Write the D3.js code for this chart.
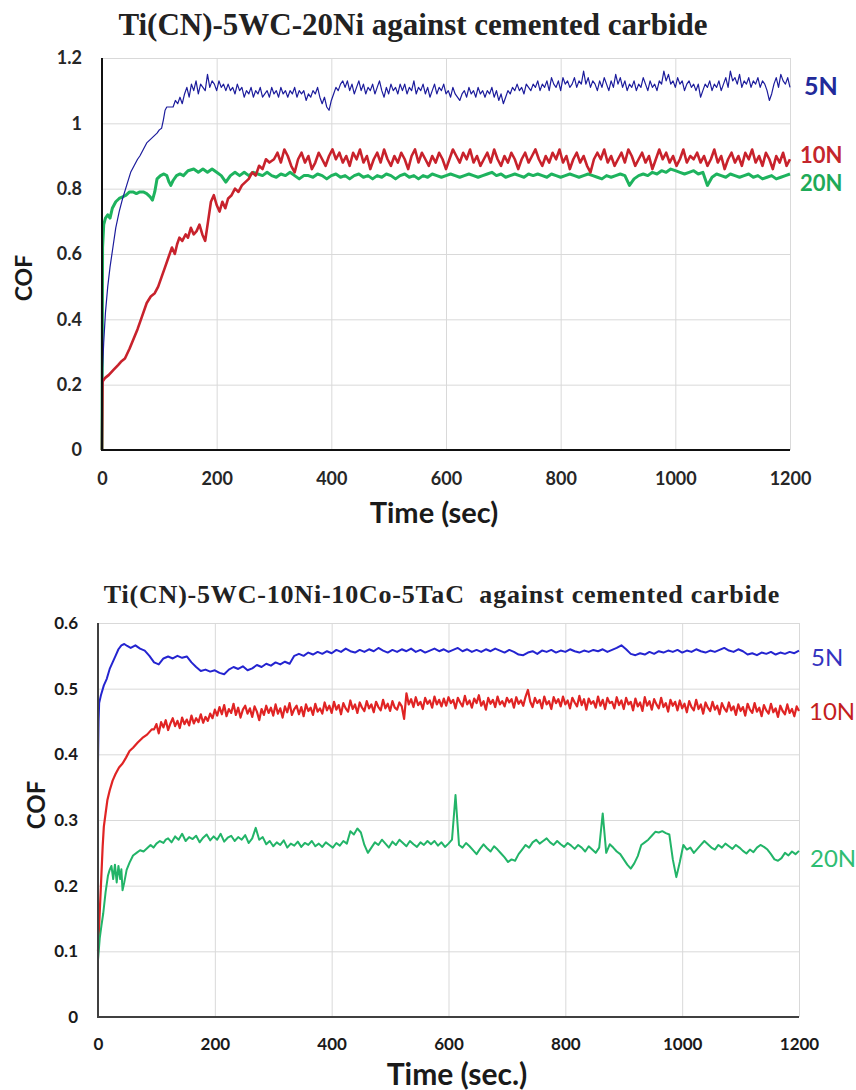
<!DOCTYPE html>
<html>
<head>
<meta charset="utf-8">
<script src="https://cdn.jsdelivr.net/npm/d3@7"></script>
<style>
  html, body { margin: 0; padding: 0; background: #ffffff; }
  svg { display: block; }
</style>
</head>
<body>
<svg id="chart" width="856" height="1090"></svg>
<script>
// ---------------------------------------------------------------
// Friction data (COF vs sliding time, seconds)
// Each curve: an initial run-in part as [time, cof] pairs, then a
// steady part sampled at a fixed time step.
// ---------------------------------------------------------------
const timeTicks = [0, 200, 400, 600, 800, 1000, 1200];
const topCofTicks = [0, 0.2, 0.4, 0.6, 0.8, 1, 1.2];
const bottomCofTicks = [0, 0.1, 0.2, 0.3, 0.4, 0.5, 0.6];
const loadLabels = ["5N", "10N", "20N"];

// ---- Ti(CN)-5WC-20Ni ----
const top5NRamp = [[0,0],[1,0.25],[3,0.33],[6,0.42],[10,0.50],[14,0.56],[19,0.62],[24,0.68],[30,0.73],[36,0.77],[43,0.81],[50,0.85],[56,0.87],[62,0.89],[66,0.90],[72,0.92],[78,0.94],[84,0.95],[90,0.96],[96,0.97],[100,0.98],[104,0.985],[107,1.01],[110,1.04],[113,1.05],[118,1.05]];
const top5NStart = 124, top5NStep = 4;
const top5NTail = [
  1.05,1.07,1.06,1.08,1.06,1.09,1.11,1.08,1.12,1.10,1.13,1.09,1.12,1.11,1.10,1.15,1.11,1.13,1.12,1.10,1.13,1.11,1.12,1.10,1.12,
  1.10,1.11,1.09,1.12,1.10,1.11,1.08,1.10,1.09,1.11,1.08,1.10,1.09,1.11,1.08,1.09,1.10,1.08,1.11,1.09,1.10,1.08,1.11,1.09,1.10,
  1.08,1.10,1.09,1.11,1.08,1.10,1.09,1.10,1.07,1.09,1.08,1.10,1.09,1.11,1.08,1.06,1.08,1.05,1.04,1.07,1.09,1.11,1.10,1.12,1.13,
  1.11,1.13,1.10,1.12,1.09,1.11,1.13,1.10,1.12,1.09,1.11,1.10,1.12,1.09,1.11,1.13,1.10,1.08,1.11,1.09,1.12,1.10,1.11,1.09,1.12,
  1.10,1.12,1.09,1.11,1.10,1.13,1.09,1.11,1.10,1.12,1.09,1.11,1.08,1.10,1.12,1.09,1.11,1.10,1.12,1.09,1.10,1.08,1.11,1.09,1.08,
  1.07,1.09,1.10,1.08,1.11,1.09,1.10,1.08,1.11,1.09,1.10,1.08,1.10,1.09,1.11,1.08,1.10,1.07,1.09,1.06,1.08,1.10,1.09,1.11,1.10,
  1.12,1.10,1.11,1.09,1.12,1.11,1.10,1.12,1.11,1.13,1.10,1.12,1.11,1.13,1.10,1.14,1.12,1.11,1.13,1.10,1.14,1.12,1.13,1.11,1.12,
  1.14,1.11,1.13,1.12,1.16,1.12,1.14,1.11,1.13,1.12,1.10,1.13,1.11,1.14,1.12,1.10,1.13,1.11,1.15,1.12,1.14,1.11,1.13,1.10,1.12,
  1.11,1.13,1.10,1.12,1.11,1.14,1.12,1.10,1.13,1.11,1.12,1.10,1.13,1.12,1.16,1.13,1.15,1.12,1.13,1.11,1.14,1.12,1.13,1.10,1.12,
  1.13,1.11,1.12,1.10,1.12,1.08,1.10,1.12,1.11,1.13,1.10,1.12,1.11,1.13,1.10,1.12,1.14,1.11,1.16,1.13,1.14,1.12,1.15,1.11,1.13,
  1.12,1.14,1.11,1.13,1.12,1.14,1.11,1.13,1.12,1.10,1.07,1.09,1.12,1.14,1.11,1.15,1.13,1.12,1.14,1.11
];

const top10NRamp = [[0,0],[1,0.21],[5,0.22],[12,0.23],[20,0.245],[28,0.26],[33,0.27],[40,0.28],[48,0.31],[55,0.34],[62,0.37],[70,0.41],[78,0.45],[85,0.47],[92,0.48],[98,0.50],[104,0.53],[110,0.56],[116,0.59],[122,0.62],[127,0.60],[131,0.63],[135,0.65],[140,0.64],[146,0.66],[150,0.65],[155,0.68],[160,0.66],[165,0.67],[170,0.69],[175,0.66],[180,0.64],[185,0.70],[190,0.76],[195,0.78],[200,0.75],[205,0.73],[210,0.76],[215,0.74],[220,0.77],[226,0.78],[232,0.80],[238,0.79],[244,0.81],[250,0.82],[256,0.83],[262,0.85],[268,0.84],[274,0.87],[280,0.86],[286,0.89],[292,0.88]];
const top10NStart = 300, top10NStep = 6;
const top10NTail = [
  0.89,0.91,0.88,0.92,0.90,0.87,0.85,0.89,0.91,0.88,0.90,0.86,0.88,0.91,0.89,0.87,0.90,0.92,0.89,0.91,0.88,0.90,0.87,0.91,0.89,
  0.92,0.88,0.90,0.86,0.89,0.91,0.88,0.92,0.89,0.87,0.90,0.88,0.91,0.89,0.86,0.90,0.92,0.88,0.91,0.89,0.87,0.90,0.88,0.91,0.89,
  0.86,0.89,0.92,0.90,0.88,0.91,0.89,0.92,0.88,0.90,0.87,0.89,0.91,0.88,0.92,0.89,0.87,0.90,0.88,0.91,0.89,0.86,0.89,0.91,0.88,
  0.90,0.92,0.89,0.87,0.90,0.88,0.91,0.89,0.92,0.88,0.90,0.86,0.89,0.91,0.88,0.90,0.87,0.85,0.89,0.91,0.89,0.92,0.88,0.90,0.87,
  0.89,0.91,0.88,0.92,0.90,0.87,0.89,0.91,0.88,0.90,0.86,0.89,0.92,0.89,0.91,0.88,0.90,0.87,0.89,0.92,0.88,0.90,0.89,0.91,0.88,
  0.90,0.87,0.89,0.92,0.88,0.90,0.86,0.89,0.91,0.88,0.90,0.87,0.91,0.89,0.92,0.88,0.90,0.87,0.91,0.89,0.86,0.90,0.88,0.91,0.87,
  0.89
];

const top20NRamp = [[0,0],[1,0.62],[3,0.69],[6,0.71],[10,0.72],[14,0.71],[18,0.74],[24,0.76],[30,0.77],[36,0.775],[42,0.78],[48,0.79],[54,0.79],[60,0.785],[66,0.79],[72,0.79],[78,0.785],[84,0.775],[88,0.765],[92,0.79],[96,0.83],[102,0.84],[108,0.845],[113,0.84],[117,0.82],[120,0.81],[124,0.825],[130,0.84],[136,0.845],[142,0.84],[150,0.855]];
const top20NStart = 160, top20NStep = 8;
const top20NTail = [
  0.86,0.85,0.86,0.85,0.86,0.85,0.84,0.82,0.84,0.85,0.84,0.85,0.84,0.85,0.845,0.84,0.85,0.84,0.835,0.845,0.84,0.85,0.84,0.83,0.84,
  0.84,0.835,0.845,0.84,0.83,0.84,0.845,0.835,0.84,0.83,0.84,0.845,0.835,0.84,0.83,0.84,0.835,0.845,0.84,0.83,0.84,0.845,0.835,0.84,0.83,
  0.84,0.835,0.845,0.84,0.835,0.84,0.845,0.84,0.835,0.84,0.845,0.84,0.835,0.84,0.845,0.85,0.84,0.845,0.835,0.84,0.845,0.84,0.835,0.845,0.84,
  0.845,0.84,0.835,0.845,0.84,0.835,0.84,0.845,0.84,0.835,0.84,0.845,0.84,0.835,0.83,0.84,0.835,0.84,0.845,0.84,0.81,0.83,0.84,0.845,0.84,
  0.85,0.845,0.855,0.85,0.86,0.855,0.85,0.845,0.85,0.855,0.845,0.85,0.81,0.835,0.845,0.84,0.835,0.845,0.84,0.835,0.84,0.845,0.835,0.84,0.83,
  0.835,0.84,0.83,0.835,0.84,0.845
];

// ---- Ti(CN)-5WC-10Ni-10Co-5TaC ----
const bot5NRamp = [[0,0.385],[1,0.45],[2,0.478],[5,0.49],[10,0.505],[15,0.515],[20,0.53],[25,0.54],[30,0.55],[35,0.56],[40,0.566],[45,0.568],[50,0.565]];
const bot5NStart = 56, bot5NStep = 8;
const bot5NTail = [
  0.562,0.566,0.561,0.558,0.550,0.540,0.537,0.546,0.549,0.546,0.550,0.547,0.549,0.540,0.533,0.527,0.529,0.526,0.528,0.524,0.522,0.529,0.533,0.530,0.534,
  0.528,0.531,0.536,0.533,0.538,0.535,0.540,0.537,0.541,0.538,0.550,0.553,0.550,0.555,0.552,0.556,0.553,0.557,0.554,0.559,0.556,0.561,0.557,0.555,0.559,
  0.556,0.560,0.557,0.562,0.558,0.555,0.559,0.556,0.560,0.557,0.561,0.556,0.559,0.555,0.558,0.561,0.557,0.560,0.556,0.559,0.562,0.557,0.560,0.556,0.559,
  0.556,0.560,0.557,0.561,0.558,0.555,0.559,0.556,0.552,0.551,0.555,0.557,0.553,0.558,0.556,0.559,0.555,0.558,0.556,0.560,0.557,0.555,0.558,0.556,0.559,
  0.557,0.560,0.556,0.559,0.562,0.566,0.560,0.553,0.551,0.554,0.552,0.556,0.553,0.557,0.555,0.558,0.556,0.559,0.555,0.558,0.556,0.560,0.557,0.555,0.558,
  0.556,0.559,0.562,0.558,0.556,0.560,0.557,0.552,0.554,0.551,0.555,0.553,0.556,0.552,0.555,0.553,0.556,0.554,0.558
];

const bot10NRamp = [[0,0.10],[2,0.14],[4,0.18],[6,0.22],[8,0.26],[10,0.29],[13,0.31],[16,0.33],[20,0.345],[25,0.36],[30,0.37],[36,0.38],[42,0.386],[48,0.395],[54,0.405],[60,0.41],[68,0.418],[76,0.425],[84,0.43],[92,0.438]];
const bot10NStart = 96, bot10NStep = 4;
const bot10NTail = [
  0.438,0.446,0.432,0.449,0.441,0.452,0.437,0.447,0.455,0.443,0.451,0.440,0.456,0.446,0.453,0.444,0.459,0.447,0.455,0.449,0.461,0.448,0.457,0.451,0.462,
  0.455,0.468,0.459,0.472,0.461,0.475,0.458,0.469,0.463,0.477,0.460,0.471,0.456,0.468,0.474,0.462,0.470,0.457,0.473,0.465,0.452,0.469,0.460,0.474,0.463,
  0.471,0.459,0.476,0.462,0.470,0.456,0.473,0.464,0.478,0.460,0.469,0.474,0.461,0.472,0.458,0.476,0.466,0.471,0.460,0.477,0.465,0.470,0.462,0.479,0.467,
  0.474,0.463,0.480,0.468,0.475,0.461,0.478,0.470,0.465,0.482,0.469,0.476,0.463,0.479,0.471,0.466,0.481,0.470,0.476,0.464,0.480,0.472,0.467,0.483,0.470,
  0.477,0.466,0.481,0.471,0.468,0.479,0.473,0.454,0.493,0.476,0.484,0.472,0.487,0.475,0.480,0.469,0.486,0.477,0.482,0.471,0.488,0.476,0.483,0.473,0.485,
  0.474,0.487,0.478,0.483,0.470,0.486,0.479,0.473,0.489,0.476,0.482,0.471,0.485,0.478,0.490,0.474,0.481,0.468,0.486,0.477,0.483,0.472,0.488,0.476,0.481,
  0.473,0.486,0.479,0.484,0.471,0.487,0.477,0.482,0.474,0.488,0.498,0.480,0.472,0.486,0.478,0.483,0.470,0.488,0.476,0.481,0.469,0.487,0.478,0.484,0.473,
  0.488,0.476,0.482,0.470,0.486,0.479,0.473,0.489,0.475,0.484,0.468,0.485,0.477,0.481,0.471,0.488,0.474,0.483,0.469,0.486,0.478,0.480,0.470,0.487,0.475,
  0.482,0.469,0.486,0.476,0.480,0.467,0.485,0.473,0.479,0.466,0.487,0.474,0.481,0.468,0.484,0.476,0.470,0.486,0.472,0.478,0.465,0.483,0.474,0.480,0.467,
  0.482,0.470,0.477,0.464,0.481,0.472,0.467,0.483,0.469,0.476,0.462,0.479,0.471,0.466,0.480,0.468,0.474,0.461,0.478,0.470,0.465,0.479,0.467,0.473,0.460,
  0.476,0.466,0.472,0.459,0.477,0.468,0.463,0.478,0.465,0.471,0.458,0.475,0.467,0.462,0.477,0.464,0.470,0.457,0.474,0.466,0.461,0.476,0.463,0.469,0.458,
  0.473,0.466
];

const bot20NRamp = [[0,0.087],[3,0.12],[6,0.14],[9,0.158],[13,0.19],[17,0.215],[20,0.224],[23,0.23],[26,0.21],[29,0.232],[32,0.205],[35,0.23],[38,0.21],[40,0.225],[42,0.193],[45,0.205],[49,0.224],[54,0.235],[60,0.246],[66,0.25],[72,0.254],[78,0.252],[84,0.257],[90,0.262],[95,0.258],[100,0.264],[106,0.268],[112,0.265],[116,0.27]];
const bot20NStart = 120, bot20NStep = 6;
const bot20NTail = [
  0.272,0.266,0.275,0.270,0.279,0.268,0.274,0.271,0.276,0.266,0.273,0.278,0.269,0.275,0.270,0.279,0.267,0.273,0.276,0.268,0.274,0.270,0.277,0.265,0.272,
  0.288,0.270,0.274,0.263,0.268,0.260,0.266,0.262,0.269,0.258,0.264,0.261,0.267,0.259,0.265,0.262,0.268,0.260,0.264,0.259,0.266,0.262,0.258,0.265,0.261,
  0.268,0.264,0.283,0.278,0.287,0.281,0.262,0.250,0.258,0.266,0.262,0.270,0.264,0.258,0.267,0.262,0.270,0.265,0.260,0.268,0.263,0.259,0.266,0.262,0.268,
  0.263,0.268,0.261,0.266,0.259,0.264,0.270,0.338,0.262,0.258,0.265,0.260,0.254,0.248,0.256,0.263,0.257,0.252,0.260,0.255,0.249,0.243,0.236,0.240,0.238,
  0.248,0.255,0.262,0.258,0.266,0.270,0.264,0.268,0.272,0.266,0.262,0.268,0.263,0.259,0.265,0.261,0.256,0.262,0.258,0.252,0.260,0.255,0.250,0.258,0.310,
  0.250,0.263,0.258,0.252,0.248,0.240,0.232,0.226,0.234,0.245,0.262,0.266,0.270,0.276,0.282,0.281,0.283,0.280,0.278,0.240,0.213,0.236,0.262,0.255,0.258,
  0.250,0.256,0.262,0.268,0.263,0.258,0.255,0.262,0.258,0.264,0.260,0.256,0.262,0.258,0.253,0.249,0.255,0.251,0.258,0.262,0.259,0.255,0.248,0.240,0.238,
  0.242,0.250,0.246,0.252,0.248,0.253
];

// ---------------------------------------------------------------
const svg = d3.select("#chart");
const sansFont = "Lato, 'Open Sans', 'DejaVu Sans', sans-serif";
const serifFont = "'Liberation Serif', 'DejaVu Serif', serif";

function buildSeries(ramp, tail, start, step) {
  return ramp.concat(tail.map((v, i) => [start + i * step, v]));
}

function drawPanel(cfg) {
  const g = svg.append("g");
  const x = d3.scaleLinear().domain([0, 1200]).range([cfg.left, cfg.right]);
  const y = d3.scaleLinear().domain([0, cfg.yMax]).range([cfg.bottom, cfg.top]);

  // vertical gridlines + time tick labels
  g.append("g")
    .attr("transform", `translate(0,${cfg.bottom})`)
    .call(d3.axisBottom(x).tickValues(timeTicks).tickFormat(d3.format("d"))
      .tickSize(-(cfg.bottom - cfg.top)).tickPadding(cfg.xPad))
    .call(a => a.select(".domain").remove())
    .call(a => a.selectAll(".tick line").attr("stroke", cfg.gridColor).attr("stroke-width", 1))
    .attr("font-family", sansFont).attr("font-size", cfg.tickFont).attr("font-weight", 700)
    .call(a => a.selectAll(".tick text").attr("fill", cfg.tickColor));

  // horizontal gridlines + COF tick labels
  g.append("g")
    .attr("transform", `translate(${cfg.left},0)`)
    .call(d3.axisLeft(y).tickValues(cfg.yTicks).tickFormat(d3.format("~g"))
      .tickSize(-(cfg.right - cfg.left)).tickPadding(cfg.yPad))
    .call(a => a.select(".domain").remove())
    .call(a => a.selectAll(".tick line").attr("stroke", cfg.gridColor).attr("stroke-width", 1))
    .attr("font-family", sansFont).attr("font-size", cfg.tickFont).attr("font-weight", 700)
    .call(a => a.selectAll(".tick text").attr("fill", cfg.tickColor));

  // curves
  const line = d3.line().x(d => x(d[0])).y(d => y(d[1]));
  cfg.series.forEach(s => {
    g.append("path")
      .datum(s.data)
      .attr("fill", "none")
      .attr("stroke", s.color)
      .attr("stroke-width", s.width)
      .attr("stroke-linejoin", "round")
      .attr("d", line);
  });

  // axis lines
  g.append("line").attr("x1", cfg.left).attr("x2", cfg.left)
    .attr("y1", cfg.top).attr("y2", cfg.bottom + 1)
    .attr("stroke", cfg.axisColor).attr("stroke-width", 2);
  g.append("line").attr("x1", cfg.left - 1).attr("x2", cfg.right)
    .attr("y1", cfg.bottom).attr("y2", cfg.bottom)
    .attr("stroke", cfg.axisColor).attr("stroke-width", 2);

  // title
  g.append("text")
    .attr("x", cfg.titleX).attr("y", cfg.titleY)
    .attr("text-anchor", "middle")
    .attr("font-family", serifFont).attr("font-weight", 700)
    .attr("font-size", cfg.titleFont)
    .attr("letter-spacing", cfg.titleSpacing)
    .attr("fill", "#222222")
    .style("white-space", "pre")
    .text(cfg.title);

  // axis titles
  g.append("text")
    .attr("x", cfg.xTitleX).attr("y", cfg.xTitleY)
    .attr("text-anchor", "middle")
    .attr("font-family", sansFont).attr("font-weight", 700)
    .attr("font-size", cfg.xTitleFont).attr("fill", "#1a1a1a")
    .text(cfg.xTitle);
  g.append("text")
    .attr("transform", `translate(${cfg.yTitleX},${cfg.yTitleY}) rotate(-90)`)
    .attr("text-anchor", "middle")
    .attr("font-family", sansFont).attr("font-weight", 700)
    .attr("font-size", cfg.yTitleFont).attr("fill", "#1a1a1a")
    .text("COF");

  // load labels at the right end
  cfg.series.forEach(s => {
    g.append("text")
      .attr("x", s.labelX).attr("y", s.labelY)
      .attr("font-family", sansFont).attr("font-weight", cfg.labelWeight)
      .attr("font-size", s.labelFont)
      .attr("fill", s.labelColor)
      .text(s.label);
  });
}

drawPanel({
  left: 102, right: 790, top: 58, bottom: 450, yMax: 1.2,
  yTicks: topCofTicks, xPad: 22, yPad: 20,
  tickFont: 18, tickColor: "#262626",
  gridColor: "#d9d9d9", axisColor: "#111111",
  title: "Ti(CN)-5WC-20Ni against cemented carbide",
  titleX: 413, titleY: 35, titleFont: 31, titleSpacing: 0,
  xTitle: "Time (sec)", xTitleX: 434, xTitleY: 523, xTitleFont: 29,
  yTitleX: 32, yTitleY: 278, yTitleFont: 23,
  labelWeight: 700,
  series: [
    { data: buildSeries(top20NRamp, top20NTail, top20NStart, top20NStep), color: "#1eb35e", width: 3,
      label: loadLabels[2], labelX: 800, labelY: 191, labelFont: 22, labelColor: "#1eaa58" },
    { data: buildSeries(top10NRamp, top10NTail, top10NStart, top10NStep), color: "#c8222c", width: 2.6,
      label: loadLabels[1], labelX: 800, labelY: 163, labelFont: 22, labelColor: "#c4262c" },
    { data: buildSeries(top5NRamp, top5NTail, top5NStart, top5NStep), color: "#1c1c9c", width: 1.2,
      label: loadLabels[0], labelX: 804, labelY: 95, labelFont: 25, labelColor: "#222a9a" }
  ]
});

drawPanel({
  left: 98, right: 799, top: 623, bottom: 1017, yMax: 0.6,
  yTicks: bottomCofTicks, xPad: 21, yPad: 20,
  tickFont: 17, tickColor: "#1a1a1a",
  gridColor: "#d9d9d9", axisColor: "#404040",
  title: "Ti(CN)-5WC-10Ni-10Co-5TaC  against cemented carbide",
  titleX: 442, titleY: 603, titleFont: 26, titleSpacing: 0.8,
  xTitle: "Time (sec.)", xTitleX: 457, xTitleY: 1085, xTitleFont: 30,
  yTitleX: 45, yTitleY: 805, yTitleFont: 24,
  labelWeight: 400,
  series: [
    { data: buildSeries(bot10NRamp, bot10NTail, bot10NStart, bot10NStep), color: "#e02424", width: 2.2,
      label: loadLabels[1], labelX: 809, labelY: 720, labelFont: 24, labelColor: "#c41e1e" },
    { data: buildSeries(bot5NRamp, bot5NTail, bot5NStart, bot5NStep), color: "#2424d0", width: 2,
      label: loadLabels[0], labelX: 811, labelY: 666, labelFont: 24, labelColor: "#3434c0" },
    { data: buildSeries(bot20NRamp, bot20NTail, bot20NStart, bot20NStep), color: "#22b468", width: 2,
      label: loadLabels[2], labelX: 810, labelY: 867, labelFont: 24, labelColor: "#2ebd72" }
  ]
});
</script>
</body>
</html>
